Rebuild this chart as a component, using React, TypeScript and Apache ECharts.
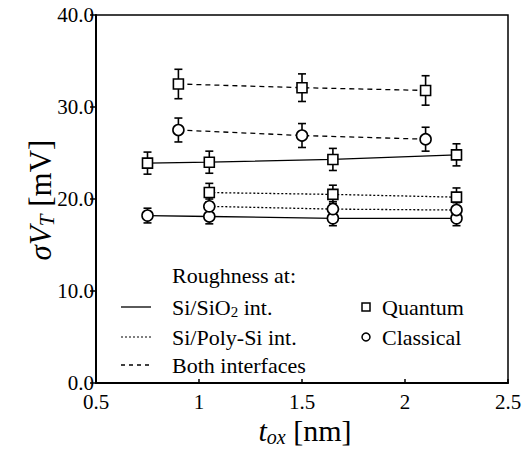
import React, { useEffect, useRef } from "react";
import * as echarts from "echarts";

// Si/SiO2 interface roughness
const siX = [0.75, 1.05, 1.65, 2.25];
const siQuantum = [23.9, 24.0, 24.3, 24.8];
const siQuantumErr = [1.2, 1.2, 1.2, 1.2];
const siClassical = [18.2, 18.1, 17.9, 17.9];
const siClassicalErr = [0.8, 0.8, 0.8, 0.8];
// Si/Poly-Si interface roughness
const polyX = [1.05, 1.65, 2.25];
const polyQuantum = [20.7, 20.5, 20.2];
const polyQuantumErr = [1.0, 1.0, 1.0];
const polyClassical = [19.2, 18.9, 18.8];
const polyClassicalErr = [0.8, 0.8, 0.8];
// Both interfaces
const bothX = [0.9, 1.5, 2.1];
const bothQuantum = [32.5, 32.1, 31.8];
const bothQuantumErr = [1.6, 1.5, 1.6];
const bothClassical = [27.5, 26.9, 26.5];
const bothClassicalErr = [1.3, 1.3, 1.3];

const legendRows = ["Roughness at:", "Si/SiO{s|2} int.", "Si/Poly-Si int.", "Both interfaces"];
const markerLabels = ["Quantum", "Classical"];

const FONT = "Liberation Serif";

type Spec = { x: number[]; y: number[]; e: number[]; symbol: string; dash: any };

const specs: Spec[] = [
  { x: siX, y: siQuantum, e: siQuantumErr, symbol: "rect", dash: "solid" },
  { x: siX, y: siClassical, e: siClassicalErr, symbol: "circle", dash: "solid" },
  { x: polyX, y: polyQuantum, e: polyQuantumErr, symbol: "rect", dash: [2, 2] },
  { x: polyX, y: polyClassical, e: polyClassicalErr, symbol: "circle", dash: [2, 2] },
  { x: bothX, y: bothQuantum, e: bothQuantumErr, symbol: "rect", dash: [5, 4] },
  { x: bothX, y: bothClassical, e: bothClassicalErr, symbol: "circle", dash: [5, 4] },
];

export default function App() {
  const ref = useRef<HTMLDivElement>(null);
  useEffect(() => {
    const chart = echarts.init(ref.current!, null, { renderer: "svg" });
    const series: any[] = [];
    specs.forEach((s) => {
      series.push({
        type: "custom",
        z: 1,
        data: s.x.map((v, i) => [v, s.y[i], s.e[i]]),
        encode: { x: 0, y: 1 },
        renderItem: (params: any, api: any) => {
          const x = api.value(0);
          const y = api.value(1);
          const e = api.value(2);
          const top = api.coord([x, y + e]);
          const bot = api.coord([x, y - e]);
          const hw = 4;
          const st = { stroke: "#000", lineWidth: 1.6 };
          return {
            type: "group",
            children: [
              { type: "line", shape: { x1: top[0], y1: top[1], x2: bot[0], y2: bot[1] }, style: st },
              { type: "line", shape: { x1: top[0] - hw, y1: top[1], x2: top[0] + hw, y2: top[1] }, style: st },
              { type: "line", shape: { x1: bot[0] - hw, y1: bot[1], x2: bot[0] + hw, y2: bot[1] }, style: st },
            ],
          };
        },
      });
      series.push({
        type: "line",
        z: 3,
        data: s.x.map((v, i) => [v, s.y[i]]),
        symbol: s.symbol,
        symbolSize: s.symbol === "rect" ? 10 : 11,
        itemStyle: { color: "#fff", borderColor: "#000", borderWidth: 1.6 },
        lineStyle: { color: "#000", width: 1.3, type: s.dash },
        emphasis: { disabled: true },
      });
    });

    const lx1 = 121, lx2 = 151, tx = 172;
    const rowsY = [275, 307, 337, 365];
    const legendDash: any[] = [null, null, [2, 2], [4, 4]];
    const graphic: any[] = [];
    legendRows.forEach((t, i) => {
      graphic.push({
        type: "text",
        x: tx,
        y: rowsY[i],
        style: {
          text: t,
          fill: "#000",
          fontSize: 22,
          fontFamily: FONT,
          align: "left",
          verticalAlign: "middle",
          rich: {
            s: { fontSize: 15, fontFamily: FONT, fill: "#000", padding: [10, 0, 0, 0] },
          },
        },
      });
      if (i > 0) {
        graphic.push({
          type: "line",
          shape: { x1: lx1, y1: rowsY[i], x2: lx2, y2: rowsY[i] },
          style: { stroke: i === 2 ? "#555" : "#000", lineWidth: 1.3, lineDash: legendDash[i] || undefined },
        });
      }
    });
    markerLabels.forEach((t, i) => {
      const y = rowsY[i + 1];
      if (i === 0) {
        graphic.push({ type: "rect", shape: { x: 362, y: y - 4, width: 8, height: 8 }, style: { fill: "#fff", stroke: "#000", lineWidth: 1.5 } });
      } else {
        graphic.push({ type: "circle", shape: { cx: 366, cy: y, r: 4 }, style: { fill: "#fff", stroke: "#000", lineWidth: 1.5 } });
      }
      graphic.push({
        type: "text",
        x: 382,
        y,
        style: { text: t, fill: "#000", fontSize: 22, fontFamily: FONT, align: "left", verticalAlign: "middle" },
      });
    });
    // axis titles
    graphic.push({
      type: "text",
      x: 40,
      y: 200,
      rotation: Math.PI / 2,
      style: {
        text: "{i|σV}{s|T}{n| [mV]}",
        align: "center",
        verticalAlign: "middle",
        fill: "#000",
        rich: {
          i: { fontSize: 31, fontFamily: FONT, fontStyle: "italic", fill: "#000" },
          s: { fontSize: 21, fontFamily: FONT, fontStyle: "italic", fill: "#000", padding: [13, 0, 0, 0] },
          n: { fontSize: 31, fontFamily: FONT, fill: "#000" },
        },
      },
    });
    graphic.push({
      type: "text",
      x: 305,
      y: 430,
      style: {
        text: "{i|t}{s|ox}{n| [nm]}",
        align: "center",
        verticalAlign: "middle",
        fill: "#000",
        rich: {
          i: { fontSize: 30, fontFamily: FONT, fontStyle: "italic", fill: "#000" },
          s: { fontSize: 20, fontFamily: FONT, fontStyle: "italic", fill: "#000", padding: [13, 0, 0, 0] },
          n: { fontSize: 30, fontFamily: FONT, fill: "#000" },
        },
      },
    });

    chart.setOption({
      animation: false,
      backgroundColor: "#fff",
      grid: { left: 96, right: 17, top: 15, bottom: 67, show: true, borderColor: "#000", borderWidth: 1.5, backgroundColor: "transparent" },
      xAxis: {
        type: "value",
        min: 0.5,
        max: 2.5,
        interval: 0.5,
        axisLine: { onZero: false, lineStyle: { color: "#000", width: 2 } },
        axisTick: { inside: true, length: 4, lineStyle: { color: "#000", width: 1.5 } },
        axisLabel: { color: "#000", fontSize: 21, fontFamily: FONT, margin: 8 },
        splitLine: { show: false },
      },
      yAxis: {
        type: "value",
        min: 0,
        max: 40,
        interval: 10,
        axisLine: { show: true, onZero: false, lineStyle: { color: "#000", width: 2 } },
        axisTick: { show: true, inside: false, length: 6, lineStyle: { color: "#000", width: 1.5 } },
        axisLabel: { color: "#000", fontSize: 21, fontFamily: FONT, margin: 2, formatter: (v: number) => v.toFixed(1) },
        splitLine: { show: false },
      },
      series,
      graphic,
    });
    return () => chart.dispose();
  }, []);
  return (
    <div style={{ position: "absolute", left: 0, top: 0, width: 525, height: 450, background: "#fff" }}>
      <div ref={ref} style={{ width: 525, height: 450 }} />
    </div>
  );
}
